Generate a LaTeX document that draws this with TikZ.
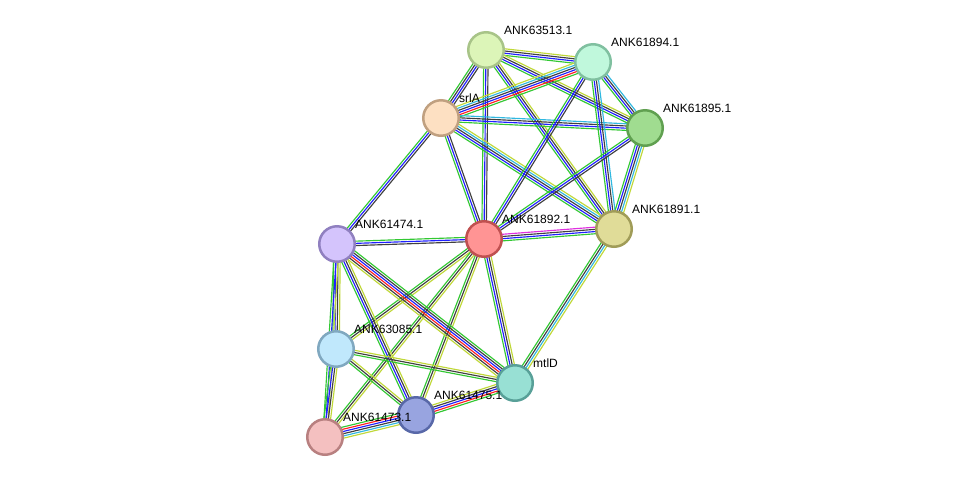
\documentclass[tikz,border=0pt]{standalone}
\usepackage{fontspec}
\setmainfont{Liberation Sans}
\usetikzlibrary{calc}
\pgfdeclarelayer{bg}
\pgfsetlayers{bg,main}
\definecolor{egreen}{HTML}{33C833}
\definecolor{ered}{HTML}{FF2020}
\definecolor{eblue}{HTML}{2020FF}
\definecolor{eblack}{HTML}{404040}
\definecolor{elime}{HTML}{C0D838}
\definecolor{ecyan}{HTML}{30B8E0}
\definecolor{emag}{HTML}{E030E0}
\tikzset{
  prot/.style={circle, minimum size=35.5pt, inner sep=0pt, line width=2.5pt},
  lab/.style={anchor=base west, font=\fontsize{12}{12}\selectfont, text=black, inner sep=0pt},
}
\newcommand\edge[4]{%
  \foreach \c [count=\i] in {#4} {
    \pgfmathsetmacro\off{(\i-(#3+1)/2)*2.2}
    \draw[color=\c, line width=1.15pt] ($(#1.center)!\off pt!90:(#2.center)$) -- ($(#2.center)!\off pt!-90:(#1.center)$);
  }%
}
\newcommand\prot[5]{%
  \node[prot, fill=#4, draw=#5] (#1) at (#2) {};
  \node[lab] (l#1) at ($(#2)+(18,-16)$) {#3};
}
\begin{document}
\begin{tikzpicture}[x=1pt, y=-1pt]
\useasboundingbox (0,0) rectangle (975,483);
\definecolor{fA}{HTML}{DCF5B8}\definecolor{bA}{HTML}{A8C488}
\definecolor{fB}{HTML}{C0F8DC}\definecolor{bB}{HTML}{80C0A0}
\definecolor{fS}{HTML}{FDE0C2}\definecolor{bS}{HTML}{C0A080}
\definecolor{fC}{HTML}{A0DC90}\definecolor{bC}{HTML}{60A050}
\definecolor{fD}{HTML}{E0DC98}\definecolor{bD}{HTML}{A09C58}
\definecolor{fE}{HTML}{FF9494}\definecolor{bE}{HTML}{C05050}
\definecolor{fF}{HTML}{D4C4FC}\definecolor{bF}{HTML}{9080C0}
\definecolor{fG}{HTML}{C0E8FC}\definecolor{bG}{HTML}{80A8C0}
\definecolor{fM}{HTML}{98E0D4}\definecolor{bM}{HTML}{58A098}
\definecolor{fH}{HTML}{98A4E0}\definecolor{bH}{HTML}{5868A8}
\definecolor{fI}{HTML}{F4C0C0}\definecolor{bI}{HTML}{B88080}
\prot{A}{486,50}{ANK63513.1}{fA}{bA}
\prot{B}{593,62}{ANK61894.1}{fB}{bB}
\prot{S}{441,118}{srlA}{fS}{bS}
\prot{C}{645,128}{ANK61895.1}{fC}{bC}
\prot{D}{614,229}{ANK61891.1}{fD}{bD}
\prot{E}{484,239}{ANK61892.1}{fE}{bE}
\prot{F}{337,244}{ANK61474.1}{fF}{bF}
\prot{G}{336,349}{ANK63085.1}{fG}{bG}
\prot{M}{515,383}{mtlD}{fM}{bM}
\prot{H}{416,415}{ANK61475.1}{fH}{bH}
\prot{I}{325,437}{ANK61473.1}{fI}{bI}
\begin{pgfonlayer}{bg}
\fill[white] (0,0) rectangle (975,483);
\edge{A}{B}{4}{egreen,eblue,eblack,elime}
\edge{A}{S}{4}{egreen,eblack,eblue,eblack}
\edge{A}{C}{4}{egreen,eblue,eblack,elime}
\edge{A}{D}{4}{egreen,eblue,eblack,elime}
\edge{A}{E}{3}{egreen,eblue,eblack}
\edge{S}{B}{6}{egreen,ered,eblue,eblack,ecyan,elime}
\edge{S}{C}{4}{egreen,eblue,eblack,ecyan}
\edge{S}{D}{5}{egreen,eblue,eblack,ecyan,elime}
\edge{S}{E}{3}{egreen,eblue,eblack}
\edge{S}{F}{3}{egreen,eblue,eblack}
\edge{B}{C}{4}{egreen,eblue,eblack,ecyan}
\edge{B}{D}{4}{egreen,eblue,eblack,ecyan}
\edge{B}{E}{3}{egreen,eblue,eblack}
\edge{C}{D}{5}{egreen,eblue,eblack,ecyan,elime}
\edge{C}{E}{3}{egreen,eblue,eblack}
\edge{D}{E}{4}{emag,eblack,eblue,egreen}
\edge{D}{M}{4}{egreen,eblack,ecyan,elime}
\edge{E}{F}{3}{egreen,eblue,eblack}
\edge{E}{G}{3}{egreen,eblack,elime}
\edge{E}{M}{4}{egreen,eblue,eblack,elime}
\edge{E}{H}{3}{egreen,eblack,elime}
\edge{E}{I}{3}{egreen,eblack,elime}
\edge{F}{G}{4}{egreen,eblue,eblack,elime}
\edge{F}{H}{4}{egreen,eblue,eblack,elime}
\edge{F}{M}{6}{elime,eblack,ered,eblue,eblack,egreen}
\edge{F}{I}{3}{egreen,eblue,elime}
\edge{G}{M}{3}{egreen,eblack,elime}
\edge{G}{H}{3}{egreen,eblack,elime}
\edge{G}{I}{4}{egreen,eblue,eblack,elime}
\edge{H}{I}{6}{egreen,ered,eblue,eblack,ecyan,elime}
\edge{H}{M}{5}{egreen,ered,eblue,eblack,elime}
\end{pgfonlayer}
\end{tikzpicture}
\end{document}
